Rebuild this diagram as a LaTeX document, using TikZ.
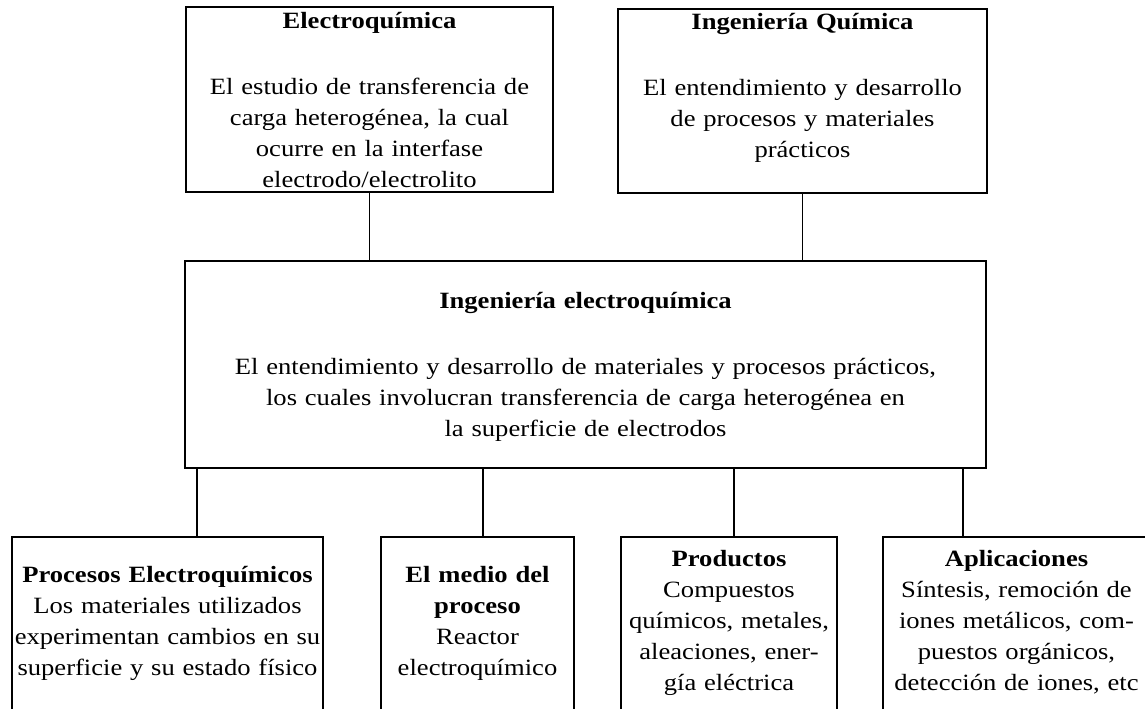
\documentclass[tikz,border=0pt]{standalone}
\usepackage{fontspec}
\setmainfont{Liberation Serif}[FakeStretch=1.14]
\begin{document}
\def\px{0.75pt}
\begin{tikzpicture}[x=0.75pt,y=-0.75pt,
  box/.style={draw, line width=1.2pt, rectangle, inner sep=0pt, outer sep=0pt},
  txt/.style={anchor=base, align=center, inner sep=0pt, outer sep=0pt,
    font=\fontsize{17.5pt}{23.25pt}\selectfont},
  conn/.style={line width=1.2pt}]
\clip (0,0) rectangle (1145,708);
% top boxes
\node[box, minimum width=367*\px, minimum height=185*\px] (ec) at (369.5,99.5) {};
\node[txt, text width=360*\px] (ect) at (369.5,28)
  {\textbf{Electroquímica}\\[26.25pt]
   El estudio de transferencia de\\
   carga heterogénea, la cual\\
   ocurre en la interfase\\
   electrodo/electrolito};
\node[box, minimum width=369*\px, minimum height=184*\px] (iq) at (802.5,101) {};
\node[txt, text width=360*\px] (iqt) at (802.5,29)
  {\textbf{Ingeniería Química}\\[26.25pt]
   El entendimiento y desarrollo\\
   de procesos y materiales\\
   prácticos};
% middle box
\node[box, minimum width=801*\px, minimum height=207*\px] (ie) at (585.5,364.5) {};
\node[txt, text width=790*\px] (iet) at (585.5,308)
  {\textbf{Ingeniería electroquímica}\\[26.25pt]
   El entendimiento y desarrollo de materiales y procesos prácticos,\\
   los cuales involucran transferencia de carga heterogénea en\\
   la superficie de electrodos};
% bottom boxes
\node[box, minimum width=311*\px, minimum height=203*\px] (pe) at (167.5,638.5) {};
\node[txt, text width=400*\px] (pet) at (167.5,582)
  {\textbf{Procesos Electroquímicos}\\
   Los materiales utilizados\\
   experimentan cambios en su\\
   superficie y su estado físico};
\node[box, minimum width=193*\px, minimum height=203*\px] (mp) at (477.5,638.5) {};
\node[txt, text width=300*\px] (mpt) at (477.5,582)
  {\textbf{El medio del}\\
   \textbf{proceso}\\
   Reactor\\
   electroquímico};
\node[box, minimum width=216*\px, minimum height=203*\px] (pr) at (729,638.5) {};
\node[txt, text width=300*\px] (prt) at (729,566)
  {\textbf{Productos}\\
   Compuestos\\
   químicos, metales,\\
   aleaciones, ener-\\
   gía eléctrica};
\node[box, minimum width=267*\px, minimum height=203*\px] (ap) at (1016.5,638.5) {};
\node[txt, text width=360*\px] (apt) at (1016.5,566)
  {\textbf{Aplicaciones}\\
   Síntesis, remoción de\\
   iones metálicos, com-\\
   puestos orgánicos,\\
   detección de iones, etc};
% connectors
\draw[conn] (ec.south) -- (ec.south |- ie.north);
\draw[conn] (iq.south) -- (iq.south |- ie.north);
\coordinate (k1) at (197,0);
\coordinate (k2) at (483,0);
\coordinate (k3) at (734,0);
\coordinate (k4) at (963,0);
\draw[conn] (ie.south -| k1) -- (pe.north -| k1);
\draw[conn] (ie.south -| k2) -- (mp.north -| k2);
\draw[conn] (ie.south -| k3) -- (pr.north -| k3);
\draw[conn] (ie.south -| k4) -- (ap.north -| k4);
\end{tikzpicture}
\end{document}
